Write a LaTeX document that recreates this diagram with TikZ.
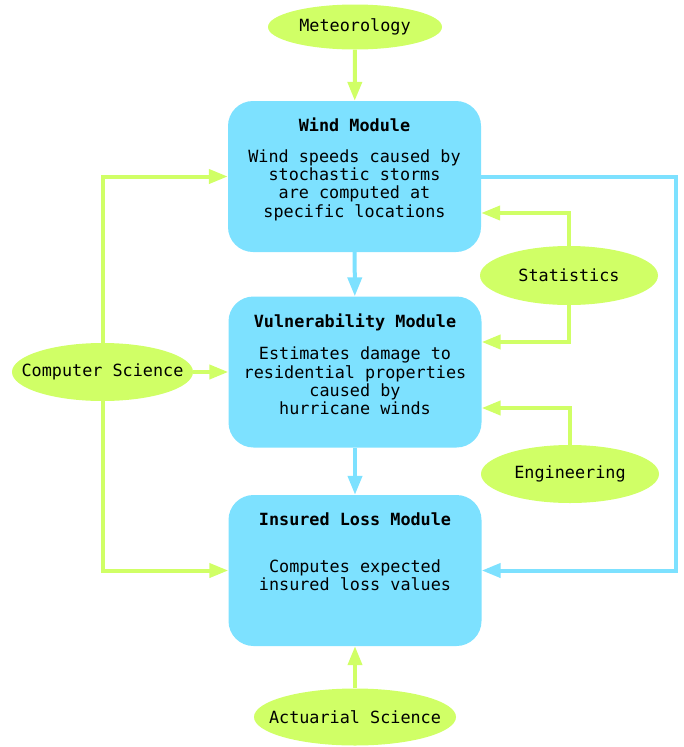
\documentclass[tikz,border=0pt]{standalone}
\usepackage{fontspec}
\setmonofont{DejaVu Sans Mono}
\usetikzlibrary{shapes.geometric,arrows.meta,positioning}
\definecolor{boxblue}{RGB}{125,225,255}
\definecolor{fieldgreen}{RGB}{208,255,102}
\newcommand{\labelfont}{\ttfamily\fontsize{16.8}{18.4}\selectfont}
\tikzset{
	module/.style={rectangle,rounded corners=25pt,fill=boxblue,minimum width=253pt,minimum height=151pt,inner sep=0pt},
	field/.style={ellipse,fill=fieldgreen,inner sep=0pt,label={[font=\labelfont,inner sep=0pt]center:#1}},
	modtitle/.style={inner sep=0pt,font=\labelfont\bfseries},
	modtext/.style={inner sep=0pt,align=center,font=\labelfont},
	gline/.style={draw=fieldgreen,line width=4pt,-{Triangle[length=19pt,width=14pt]}},
	bline/.style={draw=boxblue,line width=4pt,-{Triangle[length=19pt,width=14pt]}}
}
\begin{document}
\begin{tikzpicture}[x=1pt,y=-1pt]
				\useasboundingbox (0,0) rectangle (684,747);
				
				\node[module] (wind) at (354.5,176.5) {};
				\node[module] (vuln) at (355,372) {};
				\node[module] (insured) at (355,570.5) {};
				
				\node[modtitle] (windtitle) at (354.5,125) {Wind Module};
				\node[modtext] (windtext) at (354.5,185) {Wind speeds caused by\\stochastic storms\\are computed at\\specific locations};
				\node[modtitle] (vulntitle) at (355,322) {Vulnerability Module};
				\node[modtext] (vulntext) at (355,381) {Estimates damage to\\residential properties\\caused by\\hurricane winds};
				\node[modtitle] (insuredtitle) at (355,519) {Insured Loss Module};
				\node[modtext] (insuredtext) at (355,575) {Computes expected\\insured loss values};
				
				\node[field=Meteorology,minimum width=174pt,minimum height=45pt] (meteo) at (355,27) {};
				\node[field=Statistics,minimum width=178pt,minimum height=59pt] (stats) at (569,275.5) {};
				\node[field=Engineering,minimum width=178pt,minimum height=58pt] (engin) at (570,474) {};
				\node[field=Computer Science,minimum width=181pt,minimum height=58pt] (compsci) at (102.5,372) {};
				\node[field=Actuarial Science,minimum width=202pt,minimum height=57pt] (actuar) at (355,717) {};
				
				\draw[gline] (meteo) -- (wind);
				\draw[gline] (actuar) -- (insured);
				\draw[gline] (compsci.north) |- (wind.west);
				\draw[gline] (compsci) -- (vuln);
				\draw[gline] (compsci.south) |- (insured.west);
				\draw[gline] (stats.north) |- ([yshift=-36.5pt]wind.east);
				\draw[gline] (stats.south) |- ([yshift=30pt]vuln.east);
				\draw[gline] (engin.north) |- ([yshift=-36pt]vuln.east);
				
				\draw[bline] (wind) -- (vuln);
				\draw[bline] (vuln) -- (insured);
				\draw[bline] (wind.east) -- ++(195,0) |- (insured.east);
			\end{tikzpicture}
\end{document}
